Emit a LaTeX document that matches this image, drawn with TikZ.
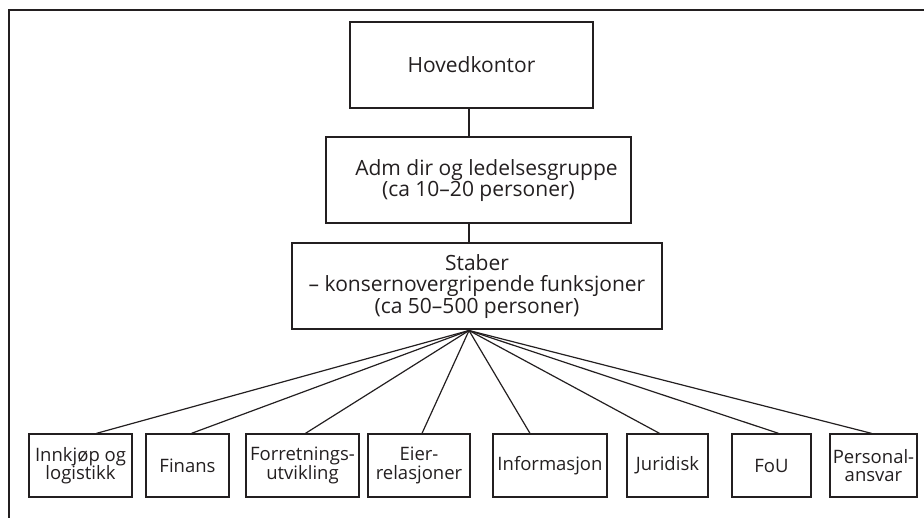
\documentclass[tikz,border=0pt]{standalone}
\usepackage{fontspec}
\setmainfont{Open Sans}
\usepackage{xcolor}
\usepackage{tikz}
\usetikzlibrary{positioning, calc}
\definecolor{mblack}{RGB}{35, 31, 32}

\tikzset{
  mainbox/.style={draw=mblack, line width=2pt, align=center, inner sep=0pt,
    font=\fontsize{21}{21.5}\selectfont, text=mblack},
  unitbox/.style={draw=mblack, line width=1.3pt, align=center, inner sep=0pt,
    minimum height=63pt, font=\fontsize{18.5}{18.5}\selectfont, text=mblack},
  link/.style={draw=mblack, line width=1.2pt}
}

\begin{document}
\begin{tikzpicture}[x=1pt, y=-1pt]
        \useasboundingbox (0,0) rectangle (924,518);
        % Frame
        \draw[mblack, line width=2pt] (9,518) -- (9,10) -- (924,10);
        % Top levels
        \node[mainbox, minimum width=243pt, minimum height=86pt]
          (hoved) at (471.5,65) {Hovedkontor};
        \node[mainbox, minimum width=305pt, minimum height=86pt]
          (adm) at (478.5,180.5)
          {\hspace*{16pt}Adm dir og ledelsesgruppe\\(ca 10–20 personer)};
        \node[mainbox, minimum width=370pt, minimum height=86pt]
          (staber) at (477,286.5)
          {Staber\\– konsernovergripende funksjoner\\(ca 50–500 personer)};
        \coordinate (hub) at ($(staber.south)+(-8,0)$);
        % Staff units
        \node[unitbox, minimum width=103pt] (innkjop) at (80.5,465.5)
          {Innkjøp og\\logistikk};
        \node[unitbox, minimum width=83pt] (finans) at (187.5,465.5)
          {Finans};
        \node[unitbox, minimum width=113pt] (forretning) at (302.5,465.5)
          {Forretnings-\\utvikling};
        \node[unitbox, minimum width=102pt] (eier) at (419,465.5)
          {Eier-\\relasjoner};
        \node[unitbox, minimum width=114pt] (info) at (550,465.5)
          {Informasjon};
        \node[unitbox, minimum width=81pt] (juridisk) at (667.5,465.5)
          {Juridisk};
        \node[unitbox, minimum width=79pt] (fou) at (771.5,465.5)
          {FoU};
        \node[unitbox, minimum width=87pt] (personal) at (873.5,465.5)
          {Personal-\\ansvar};
        % Vertical chain
        \draw[link] (hoved.south -| hub) -- (adm.north -| hub);
        \draw[link] (adm.south -| hub) -- (staber.north -| hub);
        % Fan to staff units
        \draw[link] (hub) -- ($(innkjop.north)+(16,0)$);
        \draw[link] (hub) -- ($(finans.north)+(4,0)$);
        \draw[link] (hub) -- ($(forretning.north)+(3,0)$);
        \draw[link] (hub) -- ($(eier.north)+(3,0)$);
        \draw[link] (hub) -- ($(info.north)+(-20,0)$);
        \draw[link] (hub) -- ($(juridisk.north)+(-8,0)$);
        \draw[link] (hub) -- ($(fou.north)+(7,0)$);
        \draw[link] (hub) -- ($(personal.north)+(-2,0)$);
      \end{tikzpicture}
\end{document}
